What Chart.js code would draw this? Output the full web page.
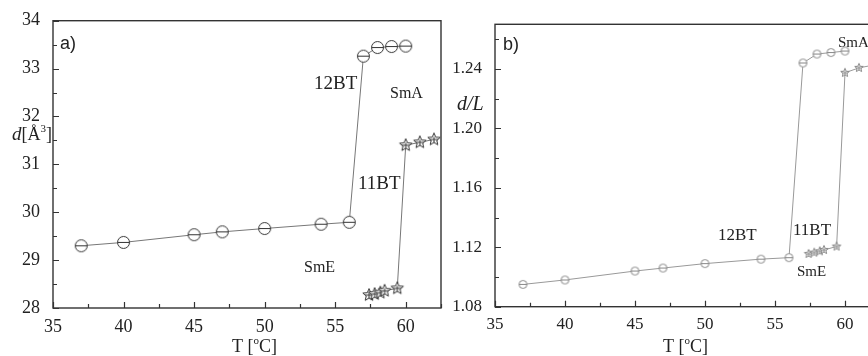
<!DOCTYPE html>
<html>
<head>
<meta charset="utf-8">
<script src="https://cdn.jsdelivr.net/npm/chart.js@4.4.1/dist/chart.umd.min.js"></script>
<style>
html, body { margin: 0; padding: 0; background: #fff; overflow: hidden; }
#wrap { position: relative; width: 868px; height: 356px; overflow: hidden; }
canvas { position: absolute; top: 0; }
#chartA { left: 0; }
#chartB { left: 448px; }
</style>
</head>
<body>
<div id="wrap">
  <canvas id="chartA" width="448" height="356"></canvas>
  <canvas id="chartB" width="440" height="356"></canvas>
</div>
<script>
// temperatures (°C)
const temps12 = [37, 40, 45, 47, 50, 54, 56, 57, 58, 59, 60];
const temps11 = [57.4, 57.8, 58.2, 58.5, 59.4, 60, 61, 62];

// a) layer spacing d [Å]
const d12 = [29.30, 29.37, 29.53, 29.59, 29.66, 29.75, 29.79, 33.26, 33.44, 33.46, 33.47];
const d11 = [28.27, 28.29, 28.32, 28.36, 28.41, 31.40, 31.46, 31.52];

// b) d/L
const dl12 = [1.095, 1.098, 1.104, 1.106, 1.109, 1.112, 1.113, 1.244, 1.250, 1.251, 1.252];
const dl11 = [1.1155, 1.1164, 1.1173, 1.1182, 1.1205, 1.2374, 1.2407, 1.2425];

// ticks
const xMajor = [35, 40, 45, 50, 55, 60];
const xMinor = [37.5, 42.5, 47.5, 52.5, 57.5, 62.5];
const yMajorA = [28, 29, 30, 31, 32, 33, 34];
const yMinorA = [28.5, 29.5, 30.5, 31.5, 32.5, 33.5];
const yMajorB = [1.08, 1.12, 1.16, 1.20, 1.24];
const yMinorB = [1.10, 1.14, 1.18, 1.22, 1.26];

const SERIF = '"Liberation Serif", "Times New Roman", serif';
const SANS = '"Liberation Sans", Arial, sans-serif';

function toXY(xs, ys) {
  return xs.map((x, i) => ({ x: x, y: ys[i] }));
}

// little marker images: circle with bar, and outlined star
function makeMarker(type, r, color) {
  const c = document.createElement('canvas');
  const s = Math.ceil(r * 2 + 3);
  c.width = s; c.height = s;
  const g = c.getContext('2d');
  const m = s / 2;
  g.strokeStyle = color;
  g.fillStyle = '#fff';
  g.lineWidth = 1;
  if (type === 'circle') {
    g.beginPath();
    g.arc(m, m, r, 0, Math.PI * 2);
    g.fill();
    g.stroke();
    g.beginPath();
    g.moveTo(m - r, m);
    g.lineTo(m + r, m);
    g.stroke();
  } else {
    g.beginPath();
    for (let i = 0; i < 10; i++) {
      const rr = i % 2 === 0 ? r : r * 0.45;
      const a = -Math.PI / 2 + i * Math.PI / 5;
      const px = m + rr * Math.cos(a), py = m + rr * Math.sin(a);
      if (i === 0) g.moveTo(px, py); else g.lineTo(px, py);
    }
    g.closePath();
    g.fill();
    g.stroke();
    g.beginPath();
    g.moveTo(m - r * 0.6, m);
    g.lineTo(m + r * 0.6, m);
    g.moveTo(m, m - r * 0.4);
    g.lineTo(m, m + r * 0.5);
    g.stroke();
  }
  return c;
}

// draw a run of text pieces (for superscripts / italics)
function drawRich(ctx, x, y, parts) {
  let cx = x;
  parts.forEach(p => {
    ctx.font = p.font;
    ctx.fillText(p.s, cx, y + (p.dy || 0));
    cx += ctx.measureText(p.s).width + (p.gap || 0);
  });
}

function framePlugin(cfg) {
  return {
    id: 'frame',
    afterDraw(chart) {
      const ctx = chart.ctx, a = chart.chartArea;
      const xs = chart.scales.x, ys = chart.scales.y;
      ctx.save();
      ctx.strokeStyle = '#333';
      ctx.lineWidth = 1.4;
      ctx.strokeRect(a.left, a.top, a.right - a.left, a.bottom - a.top);
      ctx.lineWidth = 1.2;
      ctx.beginPath();
      xMajor.forEach(v => { const p = Math.round(xs.getPixelForValue(v)) + 0.5; ctx.moveTo(p, a.bottom); ctx.lineTo(p, a.bottom - 6); });
      xMinor.forEach(v => { const p = Math.round(xs.getPixelForValue(v)) + 0.5; ctx.moveTo(p, a.bottom); ctx.lineTo(p, a.bottom - 4); });
      cfg.yMajor.forEach(v => { const p = Math.round(ys.getPixelForValue(v)) + 0.5; ctx.moveTo(a.left, p); ctx.lineTo(a.left + 6, p); });
      cfg.yMinor.forEach(v => { const p = Math.round(ys.getPixelForValue(v)) + 0.5; ctx.moveTo(a.left, p); ctx.lineTo(a.left + 4, p); });
      ctx.stroke();
      ctx.fillStyle = '#222';
      ctx.textBaseline = 'alphabetic';
      ctx.textAlign = 'left';
      cfg.texts.forEach(t => drawRich(ctx, t.x, t.y, t.parts));
      ctx.restore();
    }
  };
}

function makeChart(id, cfg) {
  return new Chart(document.getElementById(id), {
    type: 'scatter',
    data: {
      datasets: [
        {
          label: '12BT',
          data: toXY(temps12, cfg.y12),
          showLine: true,
          borderColor: cfg.lineColor,
          borderWidth: 1,
          pointStyle: makeMarker('circle', cfg.r, cfg.markColor),
          pointRadius: cfg.r,
          pointHoverRadius: cfg.r
        },
        {
          label: '11BT',
          data: toXY(temps11, cfg.y11),
          showLine: true,
          borderColor: cfg.lineColor,
          borderWidth: 1,
          pointStyle: makeMarker('star', cfg.r + 0.5, cfg.markColor),
          pointRadius: cfg.r,
          pointHoverRadius: cfg.r
        }
      ]
    },
    options: {
      responsive: false,
      animation: false,
      layout: { padding: cfg.padding },
      plugins: { legend: { display: false }, tooltip: { enabled: false } },
      scales: {
        x: {
          type: 'linear',
          min: 35, max: 62.5,
          grid: { display: false },
          border: { display: false },
          afterBuildTicks: s => { s.ticks = xMajor.concat(xMinor).sort((p, q) => p - q).map(v => ({ value: v })); },
          afterFit: s => { s.height = cfg.xH; },
          ticks: {
            autoSkip: false, maxRotation: 0, padding: 0,
            color: '#222',
            font: { family: SERIF, size: cfg.fs },
            callback: v => xMajor.includes(v) ? String(v) : ''
          }
        },
        y: {
          type: 'linear',
          min: cfg.yMin, max: cfg.yMax,
          grid: { display: false },
          border: { display: false },
          afterBuildTicks: s => { s.ticks = cfg.yMajor.concat(cfg.yMinor).sort((p, q) => p - q).map(v => ({ value: v })); },
          afterFit: s => { s.width = cfg.yW; },
          ticks: {
            autoSkip: false, padding: 5,
            color: '#222',
            font: { family: SERIF, size: cfg.fs },
            callback: v => cfg.yMajor.some(m => Math.abs(m - v) < 1e-9) ? cfg.fmt(v) : ''
          }
        }
      }
    },
    plugins: [framePlugin(cfg)]
  });
}

const sup = (s, size) => ({ s: s, font: size + 'px ' + SERIF, dy: -8 });

makeChart('chartA', {
  y12: d12, y11: d11,
  yMin: 28, yMax: 34,
  yMajor: yMajorA, yMinor: yMinorA,
  fmt: v => String(v),
  fs: 18, xH: 48, yW: 53,
  padding: { top: 20.7, right: 3, left: 0, bottom: 0 },
  r: 6, markColor: '#333', lineColor: '#777',
  texts: [
    { x: 60, y: 49, parts: [{ s: 'a)', font: '18px ' + SANS }] },
    { x: 314, y: 89, parts: [{ s: '12BT', font: '19px ' + SERIF }] },
    { x: 390, y: 98, parts: [{ s: 'SmA', font: '16px ' + SERIF }] },
    { x: 358, y: 189, parts: [{ s: '11BT', font: '19px ' + SERIF }] },
    { x: 304, y: 272, parts: [{ s: 'SmE', font: '16px ' + SERIF }] },
    { x: 12, y: 140, parts: [{ s: 'd', font: 'italic 19px ' + SERIF }, { s: '[Å', font: '18px ' + SERIF }, sup('3', 11), { s: ']', font: '18px ' + SERIF }] },
    { x: 232, y: 352, parts: [{ s: 'T [', font: '18px ' + SERIF }, sup('o', 11), { s: 'C]', font: '18px ' + SERIF }] }
  ]
});

makeChart('chartB', {
  y12: dl12, y11: dl11,
  yMin: 1.08, yMax: 1.27,
  yMajor: yMajorB, yMinor: yMinorB,
  fmt: v => v.toFixed(2),
  fs: 17, xH: 49.3, yW: 47,
  padding: { top: 24.3, right: 8, left: 0, bottom: 0 },
  r: 4, markColor: '#888', lineColor: '#999',
  texts: [
    { x: 503 - 448, y: 50, parts: [{ s: 'b)', font: '18px ' + SANS }] },
    { x: 457 - 448, y: 110, parts: [{ s: 'd/L', font: 'italic 20px ' + SERIF }] },
    { x: 838 - 448, y: 47, parts: [{ s: 'SmA', font: '15px ' + SERIF }] },
    { x: 718 - 448, y: 240, parts: [{ s: '12BT', font: '17px ' + SERIF }] },
    { x: 793 - 448, y: 235, parts: [{ s: '11BT', font: '17px ' + SERIF }] },
    { x: 797 - 448, y: 276, parts: [{ s: 'SmE', font: '15px ' + SERIF }] },
    { x: 663 - 448, y: 352, parts: [{ s: 'T [', font: '18px ' + SERIF }, sup('o', 11), { s: 'C]', font: '18px ' + SERIF }] }
  ]
});
</script>
</body>
</html>
